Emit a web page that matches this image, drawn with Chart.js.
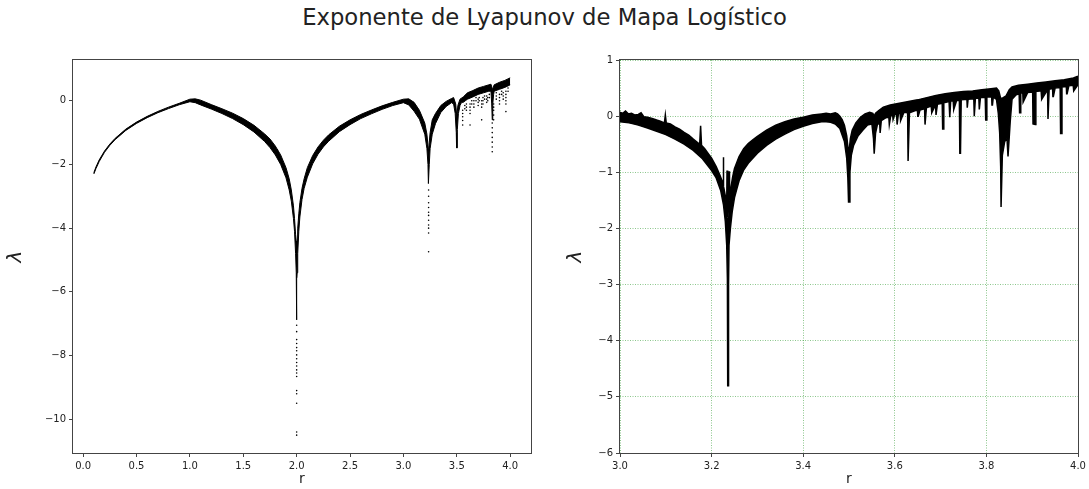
<!DOCTYPE html>
<html>
<head>
<meta charset="utf-8">
<script src="https://cdn.jsdelivr.net/npm/chart.js@4.4.0/dist/chart.umd.min.js"></script>
<style>
  body { margin: 0; background: #fff; width: 1089px; height: 489px; position: relative; overflow: hidden; }
  #titulo { position: absolute; left: 0; top: 6px; width: 1089px; text-align: center;
            font-family: "DejaVu Sans"; font-size: 22.7px; line-height: 23px; color: #222; }
  #izq { position: absolute; left: 0; top: 0; }
  #der { position: absolute; left: 560px; top: 0; }
</style>
</head>
<body>
<div id="titulo">Exponente de Lyapunov de Mapa Logístico</div>
<canvas id="izq" width="545" height="489"></canvas>
<canvas id="der" width="529" height="489"></canvas>
<script>
// marcas de los ejes
const ticksXIzq = [0, 0.5, 1, 1.5, 2, 2.5, 3, 3.5, 4];
const ticksYIzq = [0, -2, -4, -6, -8, -10];
const ticksXDer = [3.0, 3.2, 3.4, 3.6, 3.8, 4.0];
const ticksYDer = [1, 0, -1, -2, -3, -4, -5, -6];

// r en [0.1, 4]: borde superior e inferior de la nube de puntos [r, lambda]
const supIzq = [
  [0.10,-2.26],[0.12,-2.08],[0.15,-1.86],[0.20,-1.58],[0.25,-1.36],[0.30,-1.18],[0.40,-0.89],
  [0.50,-0.67],[0.60,-0.49],[0.70,-0.335],[0.80,-0.20],[0.90,-0.08],[1.00,0.05],[1.05,0.06],
  [1.10,0.02],[1.20,-0.12],[1.30,-0.25],[1.40,-0.39],[1.50,-0.56],[1.60,-0.77],[1.70,-1.04],
  [1.75,-1.2],[1.80,-1.42],[1.85,-1.7],[1.90,-2.1],[1.93,-2.45],[1.95,-2.8],[1.97,-3.3],
  [1.98,-3.7],[1.99,-4.2],[1.996,-4.4],[2.000,-4.47],[2.004,-4.4],[2.01,-4.0],[2.02,-3.55],
  [2.03,-3.2],[2.05,-2.75],[2.07,-2.45],[2.10,-2.1],[2.15,-1.72],[2.20,-1.45],[2.25,-1.24],
  [2.30,-1.07],[2.40,-0.8],[2.50,-0.6],[2.60,-0.43],[2.70,-0.29],[2.80,-0.16],[2.90,-0.05],
  [3.00,0.05],[3.05,0.06],[3.10,-0.05],[3.15,-0.3],[3.20,-0.7],[3.22,-1.05],[3.23,-1.4],
  [3.236,-1.6],[3.242,-1.3],[3.25,-1.0],[3.27,-0.6],[3.30,-0.4],[3.35,-0.15],[3.40,-0.02],
  [3.45,0.07],[3.47,0.1],[3.49,-0.1],[3.50,-0.5],[3.51,-0.15],[3.53,0.05],[3.56,0.12],
  [3.60,0.25],[3.65,0.32],[3.70,0.4],[3.75,0.45],[3.80,0.5],[3.82,0.52],[3.835,0.35],
  [3.85,0.5],[3.90,0.58],[3.95,0.64],[4.00,0.72]
];
const infIzq = [
  [0.10,-2.3],[0.12,-2.13],[0.15,-1.91],[0.20,-1.62],[0.25,-1.4],[0.30,-1.22],[0.40,-0.93],
  [0.50,-0.71],[0.60,-0.53],[0.70,-0.375],[0.80,-0.245],[0.90,-0.125],[1.00,-0.03],[1.05,-0.06],
  [1.10,-0.13],[1.20,-0.26],[1.30,-0.4],[1.40,-0.56],[1.50,-0.75],[1.60,-0.98],[1.70,-1.28],
  [1.75,-1.47],[1.80,-1.7],[1.85,-2.0],[1.90,-2.42],[1.93,-2.8],[1.95,-3.15],[1.97,-3.7],
  [1.98,-4.1],[1.99,-4.8],[1.996,-5.4],[1.9990,-5.56],[1.9996,-6.88],[2.0004,-6.88],
  [2.0010,-5.56],[2.004,-5.4],[2.01,-4.8],[2.02,-4.1],[2.03,-3.65],[2.05,-3.1],[2.07,-2.75],
  [2.10,-2.4],[2.15,-1.98],[2.20,-1.68],[2.25,-1.45],[2.30,-1.27],[2.40,-0.97],[2.50,-0.75],
  [2.60,-0.56],[2.70,-0.41],[2.80,-0.27],[2.90,-0.15],[3.00,-0.06],[3.05,-0.13],[3.10,-0.33],
  [3.15,-0.58],[3.20,-1.05],[3.22,-1.5],[3.23,-2.0],[3.234,-2.6],[3.238,-2.6],[3.242,-2.0],
  [3.25,-1.5],[3.27,-1.05],[3.30,-0.72],[3.35,-0.37],[3.40,-0.18],[3.45,-0.06],[3.47,-0.1],
  [3.485,-0.4],[3.495,-1.0],[3.498,-1.48],[3.502,-1.48],[3.505,-0.9],[3.515,-0.4],[3.53,-0.15],
  [3.545,-0.05],[3.56,-0.05],[3.58,0.0],[3.60,0.05],[3.65,0.12],[3.70,0.2],[3.75,0.25],
  [3.80,0.3],[3.82,0.3],[3.827,-0.1],[3.832,-0.6],[3.837,-0.1],[3.845,0.2],[3.85,0.3],
  [3.90,0.36],[3.95,0.42],[4.00,0.5]
];
// puntos sueltos bajo los valles
const puntosIzq = [
  [1.82,-1.55],[1.84,-1.75],[1.86,-1.92],
  [2.0,-7.05],[2.0,-7.25],[2.0,-7.5],[2.0,-7.62],[2.0,-7.75],[2.0,-7.85],[2.0,-7.98],[2.0,-8.1],
  [2.0,-8.22],[2.0,-8.33],[2.0,-8.45],[2.0,-8.55],[2.0,-8.66],[2.0,-9.1],[2.0,-9.2],[2.0,-9.5],
  [2.0,-10.4],[2.0,-10.5],
  [3.236,-2.8],[3.236,-3.0],[3.236,-3.2],[3.236,-3.35],[3.236,-3.5],[3.236,-3.6],[3.236,-3.75],
  [3.236,-3.9],[3.236,-4.0],[3.236,-4.15],[3.236,-4.74],
  [3.555,-0.3],[3.555,-0.4],[3.555,-0.5],[3.555,-0.62],[3.555,-0.76],
  [3.575,-0.15],[3.575,-0.25],[3.59,-0.1],[3.59,-0.2],[3.59,-0.3],
  [3.624,-0.1],[3.624,-0.2],[3.624,-0.3],[3.624,-0.4],[3.624,-0.76],
  [3.64,0.0],[3.64,-0.1],[3.66,0.0],[3.66,-0.1],[3.66,-0.2],[3.68,0.1],[3.68,0.0],
  [3.70,0.05],[3.70,-0.05],[3.70,-0.15],[3.71,0.1],[3.71,0.0],
  [3.733,0.0],[3.733,-0.1],[3.733,-0.2],[3.733,-0.6],[3.745,0.1],[3.745,0.0],[3.745,-0.1],
  [3.76,0.15],[3.76,0.05],[3.78,0.15],[3.78,0.05],[3.78,-0.05],[3.79,0.1],[3.79,0.0],
  [3.805,0.2],[3.805,0.1],
  [3.832,-0.7],[3.832,-0.85],[3.832,-1.0],[3.832,-1.15],[3.832,-1.3],[3.832,-1.45],[3.832,-1.6],
  [3.845,-0.1],[3.845,-0.2],[3.845,-0.3],[3.845,-0.45],[3.845,-0.6],
  [3.87,0.25],[3.87,0.15],[3.87,0.05],[3.90,0.2],[3.90,0.1],[3.90,0.0],[3.90,-0.1],
  [3.92,0.3],[3.92,0.2],[3.935,0.25],[3.935,0.15],[3.935,0.05],
  [3.96,0.3],[3.96,0.2],[3.96,0.1],[3.96,0.0],[3.96,-0.1],[3.96,-0.34],[3.98,0.4],[3.98,0.3]
];

// r en [3, 4]: borde superior e inferior de la curva
const supDer = [
  [3.000,0.07],[3.006,0.05],[3.012,0.09],[3.018,0.04],[3.025,0.05],[3.032,0.02],[3.040,0.03],
  [3.046,0.06],[3.052,-0.01],[3.060,-0.02],[3.070,-0.04],[3.080,-0.07],[3.088,-0.09],[3.097,-0.12],
  [3.099,0.02],[3.101,-0.12],[3.110,-0.14],[3.120,-0.19],[3.130,-0.23],[3.140,-0.29],[3.150,-0.34],
  [3.160,-0.41],[3.168,-0.46],[3.174,-0.50],[3.176,-0.17],[3.178,-0.52],[3.185,-0.58],[3.192,-0.66],
  [3.200,-0.75],[3.210,-0.9],[3.218,-1.05],[3.2250,-1.2],[3.2256,-0.73],[3.2264,-1.25],[3.2300,-1.42],
  [3.2330,-1.58],[3.2337,-0.97],[3.2344,-1.62],[3.2358,-1.8],[3.2375,-1.62],[3.2383,-0.98],
  [3.2391,-1.5],[3.2420,-1.28],[3.2460,-1.08],[3.2500,-0.93],[3.2600,-0.72],[3.2700,-0.58],
  [3.2800,-0.49],[3.2900,-0.42],[3.3000,-0.36],[3.3200,-0.25],[3.3400,-0.16],[3.3600,-0.1],
  [3.3800,-0.05],[3.4000,-0.02],[3.4200,0.02],[3.4400,0.04],[3.4500,0.05],[3.4600,0.04],
  [3.4700,0.06],[3.4750,0.04],[3.4800,0.0],[3.4850,-0.06],[3.4900,-0.16],[3.4950,-0.35],
  [3.4980,-0.58],[3.5005,-0.6],[3.5030,-0.4],[3.5070,-0.25],[3.5150,-0.12],[3.5250,-0.02],
  [3.5350,0.04],[3.5450,0.07],[3.5520,0.05],[3.5550,0.0],[3.5580,0.05],[3.5650,0.1],[3.5750,0.16],
  [3.5900,0.2],[3.6100,0.23],[3.6300,0.26],[3.6500,0.29],[3.6700,0.33],[3.6900,0.37],[3.7100,0.4],
  [3.7300,0.42],[3.7500,0.44],[3.7700,0.45],[3.7900,0.47],[3.8100,0.49],[3.8220,0.5],[3.8270,0.45],
  [3.8310,0.32],[3.8350,0.32],[3.8430,0.36],[3.8500,0.47],[3.8560,0.52],[3.8700,0.55],[3.8900,0.57],
  [3.9100,0.59],[3.9300,0.61],[3.9500,0.63],[3.9700,0.65],[3.9900,0.68],[4.0000,0.71]
];
const infDer = [
  [3.000,-0.1],[3.020,-0.12],[3.040,-0.16],[3.060,-0.21],[3.080,-0.27],[3.100,-0.33],[3.120,-0.41],
  [3.140,-0.5],[3.160,-0.61],[3.180,-0.76],[3.200,-0.97],[3.210,-1.1],[3.220,-1.33],[3.226,-1.58],
  [3.230,-1.88],[3.233,-2.3],[3.2345,-2.9],[3.2352,-4.8],[3.2362,-4.8],[3.2370,-3.0],[3.2380,-2.3],
  [3.2410,-2.0],[3.2450,-1.7],[3.2500,-1.45],[3.2550,-1.3],[3.2600,-1.15],[3.2700,-0.96],
  [3.2800,-0.84],[3.3000,-0.66],[3.3200,-0.52],[3.3400,-0.41],[3.3600,-0.32],[3.3800,-0.24],
  [3.4000,-0.18],[3.4200,-0.13],[3.4400,-0.1],[3.4500,-0.1],[3.4600,-0.11],[3.4700,-0.14],
  [3.4800,-0.22],[3.4900,-0.45],[3.4950,-0.75],[3.4975,-1.1],[3.4990,-1.53],[3.5005,-1.53],
  [3.5020,-1.0],[3.5050,-0.7],[3.5100,-0.52],[3.5200,-0.35],[3.5300,-0.25],[3.5400,-0.16],
  [3.5500,-0.14],[3.5535,-0.4],[3.5550,-0.67],[3.5565,-0.67],[3.5580,-0.3],[3.5620,-0.15],
  [3.5670,-0.12],[3.5680,-0.3],[3.5692,-0.3],[3.5705,-0.08],[3.5800,-0.03],[3.5870,-0.02],
  [3.5880,-0.15],[3.5893,-0.15],[3.5910,0.0],[3.5955,0.01],[3.5962,-0.06],[3.5972,-0.06],
  [3.6000,0.03],[3.6040,0.03],[3.6050,-0.15],[3.6063,-0.15],[3.6080,0.05],[3.6115,0.05],
  [3.6122,-0.08],[3.6132,-0.08],[3.6200,0.07],[3.6280,0.06],[3.6290,-0.8],[3.6304,-0.8],
  [3.6320,0.06],[3.6450,0.1],[3.6495,0.1],[3.6502,0.0],[3.6512,0.0],[3.6550,0.11],[3.6650,0.13],
  [3.6660,-0.15],[3.6673,-0.15],[3.6690,0.15],[3.6795,0.18],[3.6802,0.06],[3.6812,0.06],
  [3.6890,0.2],[3.6900,0.02],[3.6912,0.02],[3.6930,0.21],[3.7035,0.23],[3.7045,-0.23],
  [3.7058,-0.23],[3.7070,0.24],[3.7185,0.26],[3.7195,-0.02],[3.7205,-0.02],[3.7220,0.27],
  [3.7275,0.27],[3.7282,0.12],[3.7292,0.12],[3.7350,0.28],[3.7410,0.28],[3.7420,-0.66],
  [3.7434,-0.66],[3.7450,0.29],[3.7575,0.3],[3.7582,0.15],[3.7592,0.15],[3.7600,0.3],
  [3.7725,0.31],[3.7735,0.0],[3.7747,0.0],[3.7760,0.32],[3.7835,0.32],[3.7845,0.12],
  [3.7855,0.12],[3.7870,0.33],[3.7975,0.33],[3.7985,-0.07],[3.7997,-0.07],[3.8010,0.34],
  [3.8115,0.34],[3.8122,0.2],[3.8132,0.2],[3.8150,0.34],[3.8220,0.3],[3.8260,0.05],
  [3.8290,-0.3],[3.8312,-0.9],[3.8320,-1.62],[3.8332,-1.62],[3.8348,-0.7],[3.8400,-0.45],
  [3.8450,-0.4],[3.8472,-0.72],[3.8486,-0.72],[3.8520,-0.1],[3.8560,0.3],[3.8650,0.38],
  [3.8715,0.4],[3.8725,0.06],[3.8737,0.06],[3.8750,0.41],[3.8795,0.41],[3.8802,0.25],
  [3.8812,0.25],[3.8900,0.42],[3.9010,0.43],[3.9018,-0.14],[3.9065,-0.15],[3.9080,0.44],
  [3.9195,0.45],[3.9202,0.3],[3.9212,0.3],[3.9335,0.47],[3.9345,-0.05],[3.9357,-0.05],
  [3.9370,0.48],[3.9445,0.49],[3.9452,0.35],[3.9462,0.35],[3.9500,0.5],[3.9610,0.51],
  [3.9620,-0.31],[3.9632,-0.31],[3.9650,0.52],[3.9745,0.53],[3.9752,0.4],[3.9762,0.4],
  [3.9800,0.54],[3.9895,0.55],[3.9902,0.45],[3.9912,0.45],[4.0000,0.56]
];

Chart.defaults.font.family = 'DejaVu Sans';
Chart.defaults.color = '#222';

const xy = a => a.map(p => ({x: p[0], y: p[1]}));
const menos = v => v < 0 ? '\u2212' + Math.abs(v) : String(v);

// recuadro completo alrededor del area de dibujo
const marco = {
  id: 'marco',
  afterDraw(chart) {
    const {ctx, chartArea: a} = chart;
    ctx.save();
    ctx.strokeStyle = '#444';
    ctx.lineWidth = 1;
    ctx.strokeRect(a.left - 0.5, a.top - 0.5, a.right - a.left + 1, a.bottom - a.top + 1);
    ctx.restore();
  }
};

function grafica(id, sup, inf, puntos, c) {
  const rejilla = c.rejilla
    ? {color: 'rgba(0,128,0,0.45)', lineWidth: 1, tickLength: 4, tickColor: '#444', tickWidth: 1, tickBorderDash: []}
    : {drawOnChartArea: false, tickLength: 4, tickColor: '#444', tickWidth: 1};
  const ctx = document.getElementById(id).getContext('2d', {willReadFrequently: true});
  // la banda es el relleno entre el borde inferior y el superior
  return new Chart(ctx, {
    type: 'line',
    data: {
      datasets: [
        {data: xy(sup), borderColor: '#000', borderWidth: c.grosor, pointRadius: 0, fill: false},
        {data: xy(inf), borderColor: '#000', borderWidth: c.grosor, pointRadius: 0, fill: '-1', backgroundColor: '#000'},
        {data: xy(puntos), showLine: false, pointRadius: 0.8, pointBackgroundColor: '#000', pointBorderWidth: 0, fill: false}
      ]
    },
    options: {
      responsive: false,
      animation: false,
      devicePixelRatio: 1,
      layout: {padding: {top: 60, right: c.derecha, left: 0, bottom: 0}},
      plugins: {legend: {display: false}, tooltip: {enabled: false}},
      elements: {line: {tension: 0}},
      scales: {
        x: {
          type: 'linear', min: c.xmin, max: c.xmax,
          afterBuildTicks: s => { s.ticks = c.xt.map(v => ({value: v})); },
          afterFit: s => { s.height = 36; },
          ticks: {autoSkip: false, maxRotation: 0, padding: 3, font: {size: 10}, callback: v => v.toFixed(1)},
          grid: rejilla,
          border: {display: false, dash: [1, 1.5]},
          title: {display: true, text: 'r', font: {size: 14}, padding: {top: 0, bottom: 1}}
        },
        y: {
          type: 'linear', min: c.ymin, max: c.ymax,
          afterBuildTicks: s => { s.ticks = c.yt.map(v => ({value: v})); },
          afterFit: s => { s.width = c.anchoY; },
          ticks: {autoSkip: false, padding: 3, font: {size: 10}, callback: v => menos(v)},
          grid: rejilla,
          border: {display: false, dash: [1, 1.5]},
          title: {display: true, text: 'λ', font: {size: 20, style: 'italic'}, padding: {top: 4, bottom: 0}}
        }
      }
    },
    plugins: [marco]
  });
}

grafica('izq', supIzq, infIzq, puntosIzq, {
  xmin: -0.095, xmax: 4.195, ymin: -11.06, ymax: 1.28,
  xt: ticksXIzq, yt: ticksYIzq, anchoY: 73, derecha: 14, grosor: 1, rejilla: false
});
grafica('der', supDer, infDer, [], {
  xmin: 3, xmax: 4, ymin: -6, ymax: 1,
  xt: ticksXDer, yt: ticksYDer, anchoY: 60, derecha: 11, grosor: 1.5, rejilla: true
});
</script>
</body>
</html>
